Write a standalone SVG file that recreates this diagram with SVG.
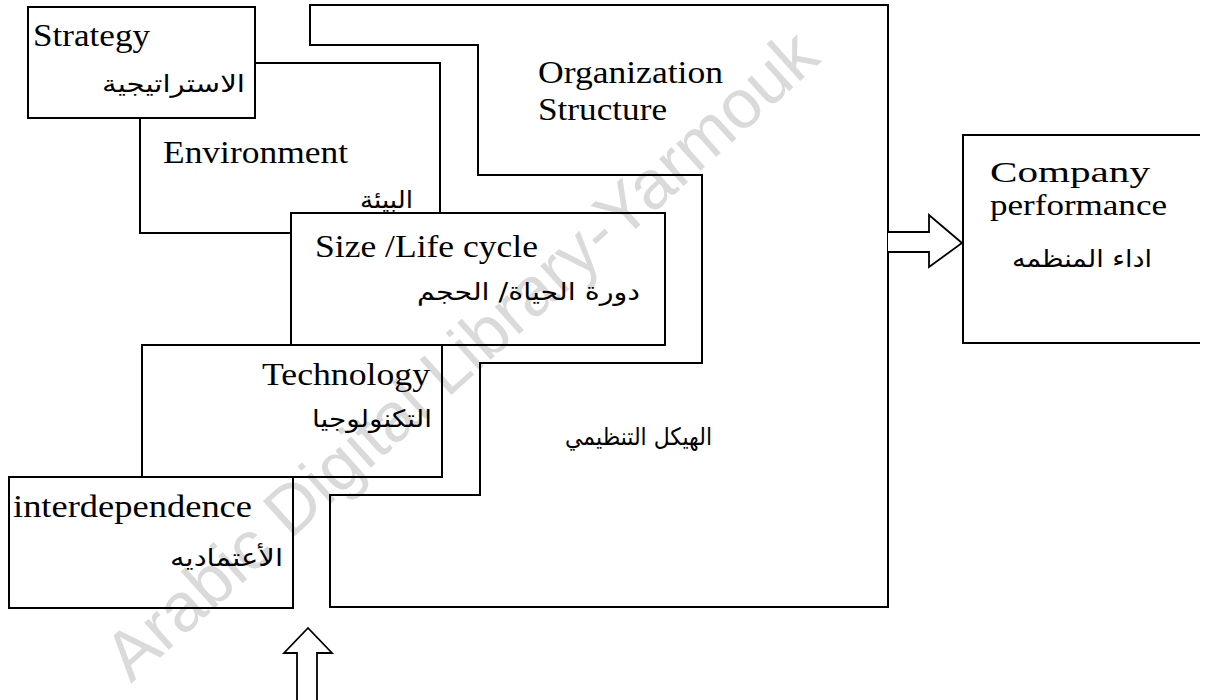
<svg xmlns="http://www.w3.org/2000/svg" width="1213" height="700" viewBox="0 0 1213 700">
<style>
.box{fill:none;stroke:#000;stroke-width:2}
.en{font-family:"Liberation Serif","Times New Roman",serif;font-size:32px;fill:#000}
.en2{font-family:"Liberation Serif","Times New Roman",serif;font-size:30px;fill:#000}
.ar{font-family:"DejaVu Sans","Noto Sans",sans-serif;font-size:24px;fill:#000}
.arrow{fill:#fff;stroke:#000;stroke-width:1.8;stroke-linejoin:miter}
.wm{font-family:"Liberation Sans",Arial,sans-serif;font-size:69px;fill:#dadada;text-anchor:middle}
</style>
<rect width="1213" height="700" fill="#fff"/>
<text class="wm" x="462" y="378" transform="rotate(-42 462 356)">Arabic Digital Library-Yarmouk</text>
<g id="organization-structure">
<path class="box" d="M310,5 H888 V607 H330 V495 H480 V363 H702 V175 H478 V45 H310 Z"/>
<text class="en" x="538" y="83" textLength="185" lengthAdjust="spacingAndGlyphs">Organization</text>
<text class="en" x="538" y="120" textLength="129" lengthAdjust="spacingAndGlyphs">Structure</text>
<text class="ar" x="565" y="445" textLength="147" lengthAdjust="spacingAndGlyphs">الهيكل التنظيمي</text>
</g>
<g id="environment">
<path class="box" d="M255,63 H440 V213 M140,118 V233 H291"/>
<text class="en" x="163" y="163" textLength="185" lengthAdjust="spacingAndGlyphs">Environment</text>
<text class="ar" x="360" y="208" textLength="53" lengthAdjust="spacingAndGlyphs">البيئة</text>
</g>
<g id="strategy">
<rect class="box" x="28" y="7" width="227" height="111"/>
<text class="en" x="33" y="46" textLength="117" lengthAdjust="spacingAndGlyphs">Strategy</text>
<text class="ar" x="102" y="92" textLength="143" lengthAdjust="spacingAndGlyphs">الاستراتيجية</text>
</g>
<g id="size-life-cycle">
<rect class="box" x="291" y="213" width="374" height="132"/>
<text class="en" x="315" y="257" textLength="223" lengthAdjust="spacingAndGlyphs">Size /Life cycle</text>
<text class="ar" x="417" y="300" textLength="223" lengthAdjust="spacingAndGlyphs">دورة الحياة/ الحجم</text>
</g>
<g id="technology">
<rect class="box" x="142" y="345" width="300" height="132"/>
<text class="en" x="262" y="385" textLength="168" lengthAdjust="spacingAndGlyphs">Technology</text>
<text class="ar" x="312" y="427" textLength="120" lengthAdjust="spacingAndGlyphs">التكنولوجيا</text>
</g>
<g id="interdependence">
<rect class="box" x="9" y="477" width="284" height="131"/>
<text class="en" x="13" y="517" textLength="239" lengthAdjust="spacingAndGlyphs">interdependence</text>
<text class="ar" x="170" y="566" textLength="113" lengthAdjust="spacingAndGlyphs">الأعتماديه</text>
</g>
<g id="company-performance">
<path d="M1200,135 H963 V343 H1200" fill="none" stroke="#000" stroke-width="2"/>
<text class="en2" x="990" y="182" textLength="160" lengthAdjust="spacingAndGlyphs">Company</text>
<text class="en2" x="990" y="215" textLength="177" lengthAdjust="spacingAndGlyphs">performance</text>
<text class="ar" x="1012" y="267" textLength="140" lengthAdjust="spacingAndGlyphs">اداء المنظمه</text>
</g>
<g id="connectors">
<path class="arrow" d="M888,232 H929 V215 L962,243 L929,267 V252 H888"/>
<path class="arrow" d="M297,702 V653 H284 L308,628 L332,653 H317 V702"/>
</g>
</svg>
